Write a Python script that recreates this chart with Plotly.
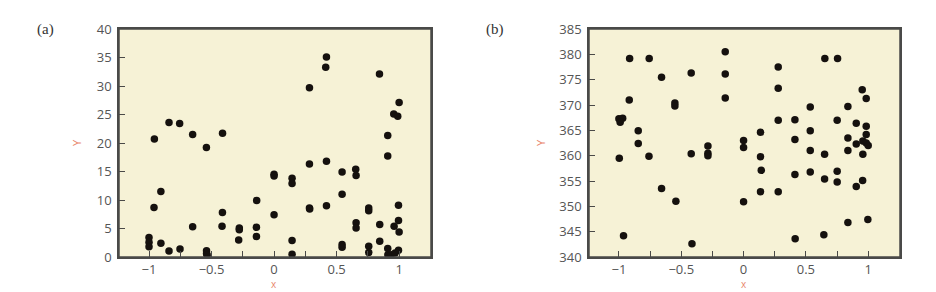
import plotly.graph_objects as go

# Panel (a) data
a_x = [-1.0, -1.0, -1.0, -0.957, -0.96, -0.905, -0.905, -0.84, -0.84, -0.755, -0.752,
       -0.651, -0.651, -0.541, -0.54, -0.54, -0.535, -0.412, -0.413, -0.416,
       -0.278, -0.278, -0.283, -0.139, -0.141, -0.141,
       0.0, 0.0, 0.0, 0.144, 0.144, 0.144, 0.144,
       0.283, 0.283, 0.283, 0.285, 0.419, 0.413, 0.419, 0.419,
       0.544, 0.544, 0.544, 0.544, 0.653, 0.656, 0.656, 0.656,
       0.757, 0.757, 0.757, 0.757, 0.843, 0.845, 0.845,
       0.909, 0.909, 0.909, 0.91, 0.936, 0.968, 0.957, 0.989, 1.0,
       0.96, 0.995, 0.995, 1.0, 0.995]
a_y = [3.4, 2.6, 1.8, 20.7, 8.7, 11.5, 2.4, 23.6, 1.05, 23.4, 1.4,
       21.5, 5.3, 19.2, 1.1, 0.6, 0.3, 21.7, 7.8, 5.4,
       5.1, 4.8, 3.0, 9.9, 5.2, 3.6,
       14.5, 14.2, 7.4, 13.8, 12.9, 2.9, 0.5,
       29.7, 16.3, 8.6, 8.4, 35.1, 33.3, 16.8, 9.0,
       14.9, 11.0, 2.2, 1.7, 15.4, 14.3, 6.0, 5.1,
       8.6, 8.1, 1.9, 0.8, 32.1, 5.7, 2.75,
       21.3, 17.7, 1.5, 0.4, 0.4, 0.7, 25.1, 24.7, 27.1,
       5.4, 9.1, 6.4, 4.4, 1.2]

# Panel (b) data
b_x = [-1.0, -0.97, -0.99, -0.997, -0.963, -0.914, -0.917, -0.845, -0.845,
       -0.757, -0.759, -0.658, -0.658, -0.551, -0.551, -0.543,
       -0.42, -0.42, -0.414, -0.286, -0.286, -0.286,
       -0.147, -0.147, -0.147, 0.0, 0.0, 0.0,
       0.136, 0.136, 0.142, 0.136, 0.278, 0.278, 0.278, 0.278,
       0.412, 0.412, 0.412, 0.414, 0.535, 0.535, 0.535, 0.535,
       0.652, 0.65, 0.65, 0.644, 0.754, 0.751, 0.751, 0.751,
       0.837, 0.837, 0.837, 0.837, 0.904, 0.904, 0.904,
       0.952, 0.957, 0.957, 0.955, 0.984, 0.984, 0.984, 0.984, 1.0, 0.997]
b_y = [367.3, 367.4, 366.6, 359.5, 344.2, 379.2, 371.0, 364.9, 362.4,
       379.2, 359.9, 375.5, 353.5, 370.4, 369.8, 351.0,
       376.3, 360.4, 342.6, 361.9, 360.5, 360.0,
       380.5, 376.1, 371.4, 363.0, 361.6, 350.9,
       364.6, 359.8, 357.1, 352.9, 377.5, 373.3, 367.0, 352.9,
       367.1, 363.2, 356.3, 343.6, 369.6, 364.9, 361.0, 356.8,
       379.2, 360.3, 355.4, 344.4, 379.2, 367.0, 356.9, 354.8,
       369.7, 363.5, 361.0, 346.8, 366.4, 362.3, 353.9,
       373.0, 362.9, 360.3, 355.1, 371.3, 365.8, 364.2, 362.5, 362.0, 347.4]

x_tickvals = [-1, -0.5, 0, 0.5, 1]
x_ticktext = ["\u22121", "\u22120.5", "0", "0.5", "1"]
a_yticks = [0, 5, 10, 15, 20, 25, 30, 35, 40]
b_yticks = [340, 345, 350, 355, 360, 365, 370, 375, 380, 385]

W, H = 936, 292
BG = "#f6f2d6"
FRAME = "#4a4a48"
TICKFONT = dict(family="Open Sans, sans-serif", size=13, color="#555555")
TITLECOL = "#e9866c"
marker = dict(size=7.5, color="#15110e")

fig = go.Figure()
fig.add_trace(go.Scatter(x=a_x, y=a_y, mode="markers", marker=marker,
                         xaxis="x", yaxis="y", showlegend=False))
fig.add_trace(go.Scatter(x=b_x, y=b_y, mode="markers", marker=marker,
                         xaxis="x2", yaxis="y2", showlegend=False))

def xaxis(domain, anchor):
    return dict(domain=domain, anchor=anchor, range=[-1.24, 1.255], automargin=False,
                tickvals=x_tickvals, ticktext=x_ticktext, ticks="inside",
                ticklen=6, tickcolor=FRAME, tickwidth=1.2,
                minor=dict(tickvals=[-0.75, -0.25, 0.25, 0.75], ticks="inside",
                           ticklen=6, tickcolor=FRAME, tickwidth=1.2),
                showgrid=False, zeroline=False, showline=True, linecolor=FRAME,
                linewidth=1.5, mirror=True, tickfont=TICKFONT)

def yaxis(domain, anchor, rng, ticks):
    return dict(domain=domain, anchor=anchor, range=rng, tickvals=ticks, automargin=False,
                ticks="inside", ticklen=6, tickcolor=FRAME, tickwidth=1.2,
                ticklabelstandoff=3,
                showgrid=False, zeroline=False, showline=True, linecolor=FRAME,
                linewidth=1.5, mirror=True, tickfont=TICKFONT)

ydom = [35 / H, 263 / H]
fig.update_layout(
    template="none",
    width=W, height=H, margin=dict(l=0, r=0, t=0, b=0, pad=0, autoexpand=False),
    paper_bgcolor="white", plot_bgcolor=BG,
    xaxis=xaxis([119 / W, 431 / W], "y"),
    yaxis=yaxis(ydom, "x", [0, 40], a_yticks),
    xaxis2=xaxis([589 / W, 900 / W], "y2"),
    yaxis2=yaxis(ydom, "x2", [340, 385], b_yticks),
    shapes=[
        dict(type="rect", xref="x domain", yref="y domain", x0=0, x1=1, y0=0, y1=1,
             line=dict(color=FRAME, width=1.5), layer="above"),
        dict(type="rect", xref="x2 domain", yref="y2 domain", x0=0, x1=1, y0=0, y1=1,
             line=dict(color=FRAME, width=1.5), layer="above"),
    ],
    annotations=[
        dict(text="(a)", x=45 / W, y=1 - 30 / H, xref="paper", yref="paper",
             xanchor="center", yanchor="middle",
             showarrow=False, font=dict(family="Liberation Serif, serif", size=15, color="#333333")),
        dict(text="(b)", x=495 / W, y=1 - 30 / H, xref="paper", yref="paper",
             xanchor="center", yanchor="middle",
             showarrow=False, font=dict(family="Liberation Serif, serif", size=15, color="#333333")),
        dict(text="Y", x=76 / W, y=1 - 143 / H, xref="paper", yref="paper", textangle=-90,
             xanchor="center", yanchor="middle",
             showarrow=False, font=dict(family="Open Sans, sans-serif", size=11, color=TITLECOL)),
        dict(text="Y", x=540 / W, y=1 - 143 / H, xref="paper", yref="paper", textangle=-90,
             xanchor="center", yanchor="middle",
             showarrow=False, font=dict(family="Open Sans, sans-serif", size=11, color=TITLECOL)),
        dict(text="x", x=274 / W, y=1 - 284 / H, xref="paper", yref="paper",
             xanchor="center", yanchor="middle",
             showarrow=False, font=dict(family="Open Sans, sans-serif", size=10, color=TITLECOL)),
        dict(text="x", x=744 / W, y=1 - 284 / H, xref="paper", yref="paper",
             xanchor="center", yanchor="middle",
             showarrow=False, font=dict(family="Open Sans, sans-serif", size=10, color=TITLECOL)),
    ],
)

fig.write_html("out.html")
